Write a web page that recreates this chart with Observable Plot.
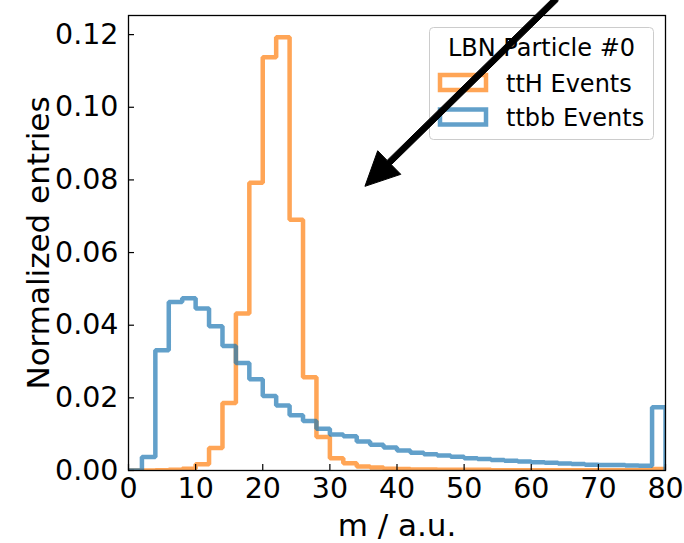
<!DOCTYPE html>
<html>
<head>
<meta charset="utf-8">
<script src="https://cdn.jsdelivr.net/npm/d3@7"></script>
<script src="https://cdn.jsdelivr.net/npm/@observablehq/plot@0.6"></script>
<style>
  html, body { margin: 0; padding: 0; background: #fff; }
  #chart { width: 684px; height: 543px; }
</style>
</head>
<body>
<div id="chart"></div>
<script>
// Histogram bins: width 2 from 0 to 80 (last bin holds overflow)
const binEdges = d3.range(0, 82, 2);

// Normalized entries per bin
const ttH = [
  0.0000, 0.0000, 0.0001, 0.0002, 0.0005, 0.0017, 0.0062, 0.0186, 0.0432, 0.0792,
  0.1138, 0.1193, 0.0690, 0.0257, 0.0092, 0.0034, 0.0020, 0.0011, 0.0008, 0.0005,
  0.0004, 0.0003, 0.0003, 0.0002, 0.0002, 0.0002, 0.0002, 0.0001, 0.0001, 0.0001,
  0.0001, 0.0001, 0.0001, 0.0001, 0.0001, 0.0001, 0.0001, 0.0001, 0.0001, 0.0004
];
const ttbb = [
  0.0000, 0.0037, 0.0331, 0.0464, 0.0474, 0.0446, 0.0397, 0.0343, 0.0296, 0.0251,
  0.0205, 0.0179, 0.0152, 0.0136, 0.0115, 0.0099, 0.0094, 0.0080, 0.0071, 0.0063,
  0.0055, 0.0049, 0.0045, 0.0041, 0.0038, 0.0034, 0.0032, 0.0029, 0.0027, 0.0025,
  0.0023, 0.0021, 0.0019, 0.0018, 0.0016, 0.0015, 0.0015, 0.0014, 0.0013, 0.0174
];

const seriesNames = ["ttH Events", "ttbb Events"];
const seriesColors = ["#ff7f0e", "#1f77b4"];
const legendTitle = "LBN Particle #0";
const xLabel = "m / a.u.";
const yLabel = "Normalized entries";
const xTicks = [0, 10, 20, 30, 40, 50, 60, 70, 80];
const yTicks = [0, 0.02, 0.04, 0.06, 0.08, 0.10, 0.12];

// Annotation arrow: tail (outside the top of the axes) and tip, in data units
const arrowTail = [63.8, 0.1297];
const arrowTip = [35.3, 0.0781];

const W = 684, H = 543;
const mL = 128, mR = 19, mT = 15, mB = 73;
const innerW = W - mL - mR, innerH = H - mT - mB;
const tickLen = 6;
const lineW = 4.5, lineAlpha = 0.7;
const font = "DejaVu Sans";
const tickFont = 28.5;

// Outline of a step histogram: up from zero at the first edge, down to zero at the last
function stepOutline(values) {
  const pts = [{x: binEdges[0], y: 0}];
  values.forEach((v, i) => {
    pts.push({x: binEdges[i], y: v}, {x: binEdges[i + 1], y: v});
  });
  pts.push({x: binEdges[binEdges.length - 1], y: 0});
  return pts;
}

// Legend box in the upper right corner of the axes
function legendMark(index, scales, values, dims) {
  const pad = 12;
  const boxW = 224, boxH = 112;
  const x0 = dims.width - dims.marginRight - pad - boxW;
  const y0 = dims.marginTop + pad;
  const g = d3.create("svg:g").attr("font-family", font).attr("fill", "black");
  g.append("rect")
    .attr("x", x0 + 0.5).attr("y", y0 + 0.5)
    .attr("width", boxW).attr("height", boxH).attr("rx", 4)
    .attr("fill", "white").attr("fill-opacity", 0.8)
    .attr("stroke", "#cccccc").attr("stroke-width", 1);
  g.append("text")
    .attr("x", x0 + boxW / 2 + 0.5).attr("y", y0 + 29)
    .attr("text-anchor", "middle").attr("font-size", 24)
    .text(legendTitle);
  seriesNames.forEach((name, i) => {
    const cy = y0 + 55.5 + i * 34.5;
    g.append("rect")
      .attr("x", x0 + 11).attr("y", cy - 7.5)
      .attr("width", 46).attr("height", 15)
      .attr("fill", "none")
      .attr("stroke", seriesColors[i]).attr("stroke-opacity", lineAlpha)
      .attr("stroke-width", lineW);
    g.append("text")
      .attr("x", x0 + 77).attr("y", cy + 9)
      .attr("text-anchor", "start").attr("font-size", 24)
      .text(name);
  });
  return g.node();
}

// Filled black arrow with a triangular head
function arrowMark(index, {x, y}) {
  const x1 = x(arrowTail[0]), y1 = y(arrowTail[1]);
  const x2 = x(arrowTip[0]), y2 = y(arrowTip[1]);
  const dx = x2 - x1, dy = y2 - y1, L = Math.hypot(dx, dy);
  const ux = dx / L, uy = dy / L, px = -uy, py = ux;
  const headLen = 34, headHalf = 16.5, shaftHalf = 3;
  const bx = x2 - ux * headLen, by = y2 - uy * headLen;
  const p = [
    [x1 + px * shaftHalf, y1 + py * shaftHalf],
    [bx + px * shaftHalf, by + py * shaftHalf],
    [bx + px * headHalf, by + py * headHalf],
    [x2, y2],
    [bx - px * headHalf, by - py * headHalf],
    [bx - px * shaftHalf, by - py * shaftHalf],
    [x1 - px * shaftHalf, y1 - py * shaftHalf]
  ];
  return d3.create("svg:path")
    .attr("d", "M" + p.map(q => q.join(",")).join("L") + "Z")
    .attr("fill", "black").attr("stroke", "black").attr("stroke-width", 1)
    .node();
}

const yMax = 1.05 * d3.max(ttH);

const chart = Plot.plot({
  width: W,
  height: H,
  marginLeft: mL,
  marginRight: mR,
  marginTop: mT,
  marginBottom: mB,
  style: {fontFamily: font, background: "white", color: "black"},
  x: {domain: [0, 80]},
  y: {domain: [0, yMax]},
  marks: [
    Plot.line(stepOutline(ttH), {
      x: "x", y: "y", stroke: seriesColors[0], strokeOpacity: lineAlpha,
      strokeWidth: lineW, strokeLinejoin: "miter", clip: true
    }),
    Plot.line(stepOutline(ttbb), {
      x: "x", y: "y", stroke: seriesColors[1], strokeOpacity: lineAlpha,
      strokeWidth: lineW, strokeLinejoin: "miter", clip: true
    }),
    Plot.frame({stroke: "black", strokeWidth: 1.3}),
    Plot.tickX(xTicks, {x: d => d, stroke: "black", strokeWidth: 1.2, insetTop: innerH - tickLen}),
    Plot.tickY(yTicks, {y: d => d, stroke: "black", strokeWidth: 1.2, insetRight: innerW - tickLen}),
    Plot.axisX(xTicks, {tickSize: 0, tickPadding: 7, fontSize: tickFont, label: null, tickFormat: d3.format("d")}),
    Plot.axisY(yTicks, {tickSize: 0, tickPadding: 10, fontSize: tickFont, label: null, tickFormat: d3.format(".2f")}),
    Plot.text([xLabel], {frameAnchor: "bottom", lineAnchor: "bottom", dy: 65, fontSize: 31, fill: "black"}),
    Plot.text([yLabel], {frameAnchor: "left", textAnchor: "middle", lineAnchor: "bottom", rotate: -90, dx: -80, fontSize: 31, fill: "black"}),
    legendMark,
    arrowMark
  ]
});

document.getElementById("chart").appendChild(chart);
</script>
</body>
</html>
